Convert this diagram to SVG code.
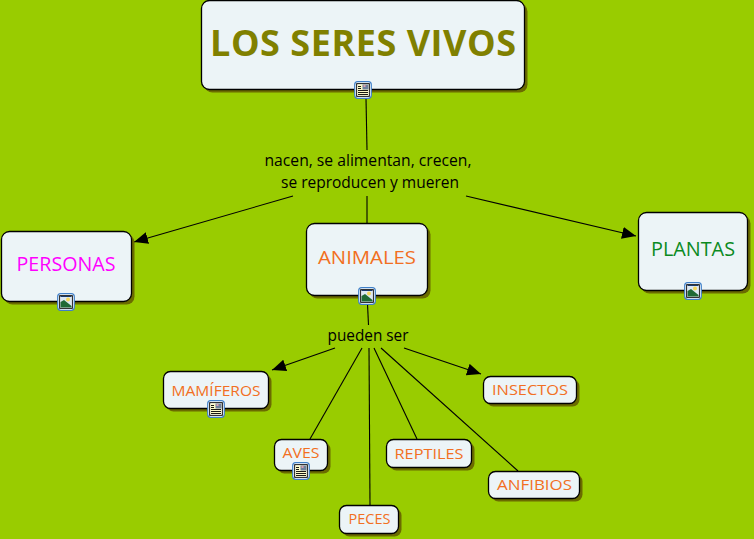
<svg xmlns="http://www.w3.org/2000/svg" width="754" height="539" viewBox="0 0 754 539">
<style>
text{font-family:"Open Sans","Liberation Sans",sans-serif;text-anchor:middle}
.box{fill:#ecf4f7;stroke:#000;stroke-width:1.3}
.sh{fill:#6b6b00}
.o{fill:#f26f22;font-size:15px}
.b{fill:#f26f22;font-size:18px}
.l{fill:#000;font-size:16px}
.c{fill:none;stroke:#000;stroke-width:1.1}
</style>
<defs>
<marker id="a" markerUnits="userSpaceOnUse" markerWidth="15" markerHeight="13" refX="14" refY="6" orient="auto"><path d="M0 0L14 6L0 12Z" fill="#000"/></marker>
<g id="frame"><rect x="-8.300" y="-8.300" width="16.600" height="16.600" rx="3" fill="#fff" stroke="#3f7fc8" stroke-width="1.200"/><rect x="-6.300" y="-6.300" width="12.600" height="12.600" fill="#fff" stroke="#000"/></g>
<g id="doc"><use href="#frame"/><rect x="-5.500" y="-5.500" width="11" height="11" fill="#fdfbc8"/><path d="M-5-3.500h3M-5-1.500h3M-5 .5h10M-5 2.500h10M-5 4.500h10" stroke="#000" stroke-width=".9"/><rect x="-.5" y="-5.500" width="6" height="5" fill="#6d7f9c"/><rect x=".5" y="-5" width="2" height="2" fill="#d9a0b0"/></g>
<g id="pic"><use href="#frame"/><rect x="-5.500" y="-5.500" width="11" height="11" fill="#dce8f4"/><circle cx="2" cy="-2.500" r="2" fill="#f4d65a"/><path d="M-5.500 5.500V0L-2-2L5.500 4V5.500Z" fill="#1f6a35"/><path d="M-5.500-5.500h11" stroke="#1a3a6a"/></g>
</defs>
<rect width="754" height="539" fill="#99cc00"/>
<g id="connectors">
<path class="c" d="M366 98L367 150"/>
<path class="c" d="M293 196L134 242" marker-end="url(#a)"/>
<path class="c" d="M367 196V223"/>
<path class="c" d="M466 196L636 236" marker-end="url(#a)"/>
<path class="c" d="M367.500 304L368.500 325"/>
<path class="c" d="M335 348L272 370" marker-end="url(#a)"/>
<path class="c" d="M362 348L310 439"/>
<path class="c" d="M369 348L370 505"/>
<path class="c" d="M374 348L417 439"/>
<path class="c" d="M381 348L518 471"/>
<path class="c" d="M404 348L481 374" marker-end="url(#a)"/>
</g>
<g id="n-title"><rect class="sh" x="204.500" y="3.500" width="323" height="89" rx="8"/><rect class="box" x="201.500" y="0.500" width="323" height="89" rx="8"/><text x="363" y="56" font-size="36" font-weight="700" fill="#808000" textLength="306" lengthAdjust="spacing">LOS SERES VIVOS</text><use href="#doc" x="363" y="90"/></g>
<g id="n-verbs"><text class="l" x="368" y="166" textLength="207" lengthAdjust="spacingAndGlyphs">nacen, se alimentan, crecen,</text><text class="l" x="370" y="188" textLength="178" lengthAdjust="spacingAndGlyphs">se reproducen y mueren</text></g>
<g id="n-personas"><rect class="sh" x="4.500" y="234.500" width="130" height="70" rx="8"/><rect class="box" x="1.500" y="231.500" width="130" height="70" rx="8"/><text x="66" y="271" font-size="20" fill="#ff00ff" textLength="99" lengthAdjust="spacingAndGlyphs">PERSONAS</text><use href="#pic" x="66" y="302"/></g>
<g id="n-animales"><rect class="sh" x="309.500" y="226.500" width="121" height="72" rx="8"/><rect class="box" x="306.500" y="223.500" width="121" height="72" rx="8"/><text class="b" x="367" y="264" textLength="98" lengthAdjust="spacingAndGlyphs">ANIMALES</text><use href="#pic" x="367" y="296"/></g>
<g id="n-plantas"><rect class="sh" x="641.500" y="215.500" width="109" height="78" rx="8"/><rect class="box" x="638.500" y="212.500" width="109" height="78" rx="8"/><text x="693" y="256" font-size="20" fill="#0b8a1f" textLength="84" lengthAdjust="spacingAndGlyphs">PLANTAS</text><use href="#pic" x="693" y="291"/></g>
<g id="n-pueden"><text class="l" x="368" y="341" textLength="81" lengthAdjust="spacingAndGlyphs">pueden ser</text></g>
<g id="n-mamiferos"><rect class="sh" x="166.500" y="374.500" width="105" height="37" rx="7"/><rect class="box" x="163.500" y="371.500" width="105" height="37" rx="7"/><text class="o" x="216" y="396" textLength="89" lengthAdjust="spacingAndGlyphs">MAMÍFEROS</text><use href="#doc" x="216" y="409"/></g>
<g id="n-aves"><rect class="sh" x="277.500" y="442.500" width="53" height="31" rx="7"/><rect class="box" x="274.500" y="439.500" width="53" height="31" rx="7"/><text class="o" x="301" y="458" textLength="37" lengthAdjust="spacingAndGlyphs">AVES</text><use href="#doc" x="301" y="471"/></g>
<g id="n-peces"><rect class="sh" x="342.500" y="508.500" width="59" height="28" rx="7"/><rect class="box" x="339.500" y="505.500" width="59" height="28" rx="7"/><text class="o" x="369.500" y="524" textLength="42" lengthAdjust="spacingAndGlyphs">PECES</text></g>
<g id="n-reptiles"><rect class="sh" x="389.500" y="442.500" width="85" height="28" rx="7"/><rect class="box" x="386.500" y="439.500" width="85" height="28" rx="7"/><text class="o" x="429" y="459" textLength="69" lengthAdjust="spacingAndGlyphs">REPTILES</text></g>
<g id="n-anfibios"><rect class="sh" x="491.500" y="474.500" width="91" height="27" rx="7"/><rect class="box" x="488.500" y="471.500" width="91" height="27" rx="7"/><text class="o" x="534.500" y="490" textLength="75" lengthAdjust="spacingAndGlyphs">ANFIBIOS</text></g>
<g id="n-insectos"><rect class="sh" x="486.500" y="379.500" width="93" height="27" rx="7"/><rect class="box" x="483.500" y="376.500" width="93" height="27" rx="7"/><text class="o" x="530" y="395" textLength="76" lengthAdjust="spacingAndGlyphs">INSECTOS</text></g>
</svg>
